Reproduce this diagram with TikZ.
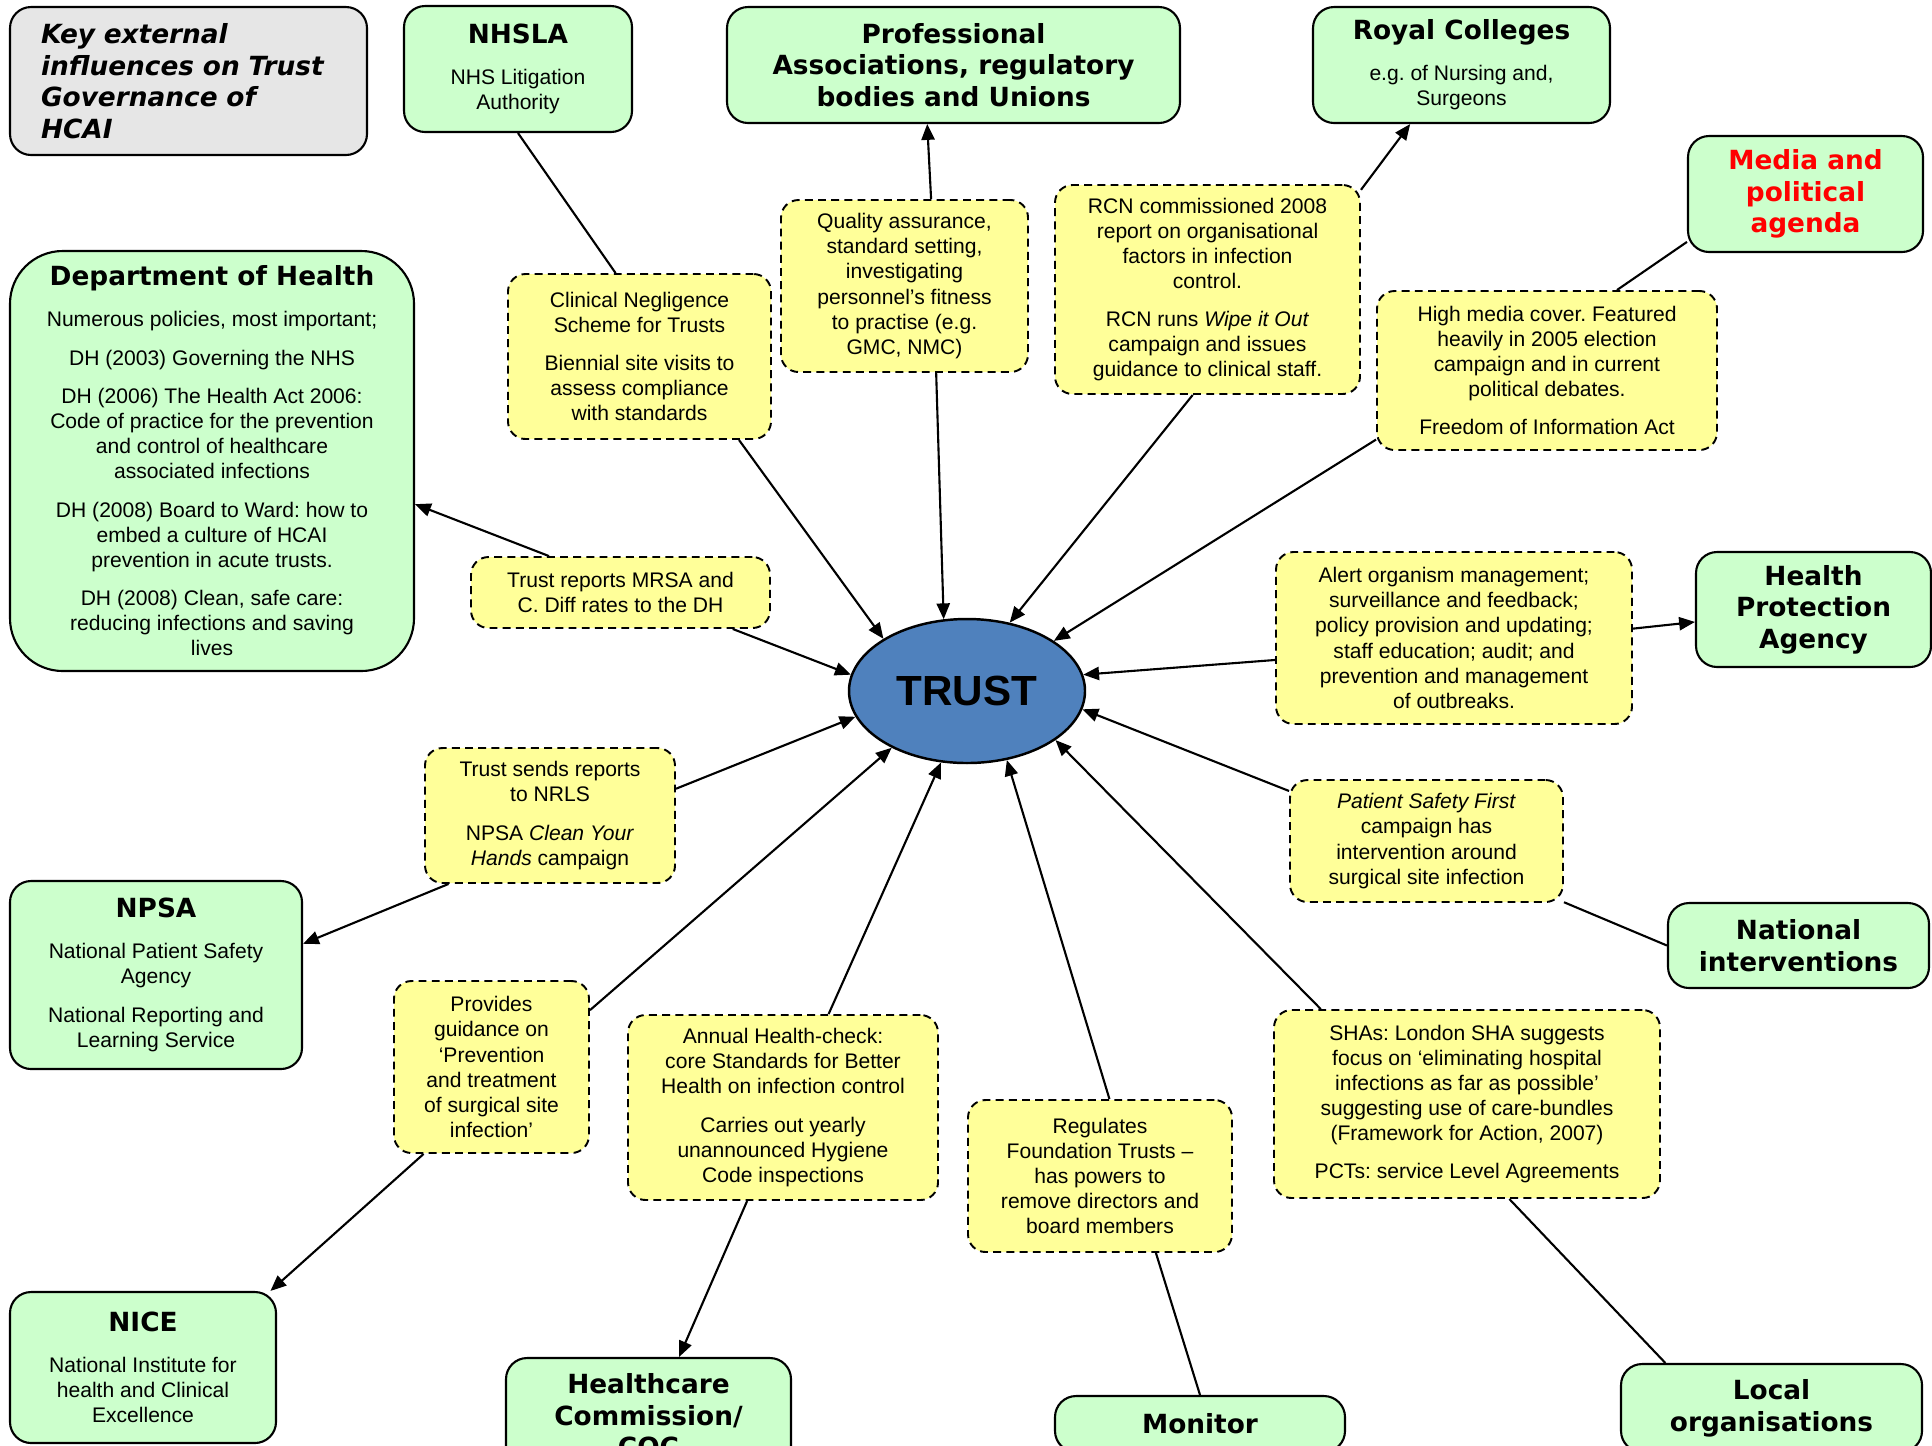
\documentclass[tikz,border=0pt]{standalone}
\usepackage{fontspec}
\setmainfont{Liberation Sans}
\newfontfamily\verdana{DejaVu Sans}
\frenchspacing
\usepackage{xcolor}
\definecolor{xgreen}{HTML}{CCFFCC}
\definecolor{xyellow}{HTML}{FFFF99}
\definecolor{xgrey}{HTML}{E6E6E6}
\definecolor{xblue}{HTML}{4F81BD}
\definecolor{xred}{HTML}{FF0000}
\usepackage{tikz}
\usetikzlibrary{arrows.meta, shapes.geometric}
\newcommand{\txtfont}{\fontsize{12}{14.3}\selectfont}
\newcommand{\ttlfont}{\verdana\bfseries\fontsize{15}{18}\selectfont}
\tikzset{
  %% Styles %%
  boxsize/.style 2 args = {minimum width=#1*0.02cm, minimum height=#2*0.02cm},
  agency/.style = {
    draw, line width=1.2pt, fill=xgreen, rounded corners=12pt,
    align=center, inner sep=2pt, font=\txtfont,
  },
  heading/.style = {agency, font=\ttlfont},
  note/.style = {
    draw, line width=1.1pt, dash pattern=on 4.5pt off 3pt, fill=xyellow,
    rounded corners=10pt, align=center, inner sep=2pt, font=\txtfont,
  },
  core/.style = {
    ellipse, draw, line width=1.4pt, fill=xblue, inner sep=0pt,
    font=\bfseries\fontsize{24}{28}\selectfont,
  },
  influence/.style = {line width=1.2pt, -{Triangle[length=9pt, width=7.5pt]}},
  link/.style = {line width=1.2pt},
}

\begin{document}
\begin{tikzpicture}[x=0.02cm, y=-0.02cm]
  \useasboundingbox (0,0) rectangle (1932,1445);
  \clip (0,0) rectangle (1932,1445);

  % Agencies
  \node[agency, boxsize={357}{148}, fill=xgrey, align=left, text width=5.9cm,
    font=\verdana\bfseries\itshape\fontsize{15}{18}\selectfont] (key) at (188.5,81)
    {Key external\\influences on Trust\\Governance of\\HCAI};
  \node[agency, boxsize={228}{126}] (nhsla) at (518,69)
    {{\ttlfont NHSLA}\\[9pt]NHS Litigation\\Authority};
  \node[heading, boxsize={453}{116}] (prof) at (953.5,65)
    {Professional\\Associations, regulatory\\bodies and Unions};
  \node[agency, boxsize={297}{116}] (royal) at (1461.5,65)
    {{\ttlfont Royal Colleges}\\[9pt]e.g. of Nursing and,\\Surgeons};
  \node[heading, boxsize={235}{116}, text=xred] (media) at (1805.5,194)
    {Media and\\political\\agenda};
  \node[agency, boxsize={404}{420}, rounded corners=30pt] (dh) at (212,461)
    {{\ttlfont Department of Health}\\[9pt]Numerous policies, most important;\\[7.5pt]
     DH (2003) Governing the NHS\\[7.5pt]
     DH (2006) The Health Act 2006:\\Code of practice for the prevention\\and control of healthcare\\associated infections\\[7.5pt]
     DH (2008) Board to Ward: how to\\embed a culture of HCAI\\prevention in acute trusts.\\[7.5pt]
     DH (2008) Clean, safe care:\\reducing infections and saving\\lives};
  \node[heading, boxsize={235}{115}] (hpa) at (1813.5,609.5)
    {Health\\Protection\\Agency};
  \node[heading, boxsize={261}{85}] (natint) at (1798.5,945.5)
    {National\\interventions};
  \node[agency, boxsize={292}{188}] (npsa) at (156,975)
    {{\ttlfont NPSA}\\[9pt]National Patient Safety\\Agency\\[7.5pt]National Reporting and\\Learning Service};
  \node[agency, boxsize={266}{151}] (nice) at (143,1367.5)
    {{\ttlfont NICE}\\[9pt]National Institute for\\health and Clinical\\Excellence};
  \node[heading, boxsize={285}{118}] (hcc) at (648.5,1417)
    {Healthcare\\Commission/\\CQC};
  \node[heading, boxsize={290}{56}] (monitor) at (1200,1424) {Monitor};
  \node[heading, boxsize={301}{88}] (local) at (1771.5,1408)
    {Local\\organisations};

  % Trust
  \node[core, boxsize={236}{144}] (trust) at (967,691) {TRUST};

  % Notes
  \node[note, boxsize={263}{165}] (cns) at (639.5,356.5)
    {Clinical Negligence\\Scheme for Trusts\\[7.5pt]Biennial site visits to\\assess compliance\\with standards};
  \node[note, boxsize={247}{172}] (qa) at (904.5,286)
    {Quality assurance,\\standard setting,\\investigating\\personnel’s fitness\\to practise (e.g.\\GMC, NMC)};
  \node[note, boxsize={305}{209}] (rcn) at (1207.5,289.5)
    {RCN commissioned 2008\\report on organisational\\factors in infection\\control.\\[7.5pt]
     RCN runs \textit{Wipe it Out}\\campaign and issues\\guidance to clinical staff.};
  \node[note, boxsize={340}{159}] (press) at (1547,370.5)
    {High media cover. Featured\\heavily in 2005 election\\campaign and in current\\political debates.\\[7.5pt]
     Freedom of Information Act};
  \node[note, boxsize={299}{71}] (mrsa) at (620.5,592.5)
    {Trust reports MRSA and\\C. Diff rates to the DH};
  \node[note, boxsize={356}{172}] (alert) at (1454,638)
    {Alert organism management;\\surveillance and feedback;\\policy provision and updating;\\staff education; audit; and\\prevention and management\\of outbreaks.};
  \node[note, boxsize={250}{135}] (nrls) at (550,815.5)
    {Trust sends reports\\to NRLS\\[7.5pt]NPSA \textit{Clean Your}\\\textit{Hands} campaign};
  \node[note, boxsize={273}{122}] (psf) at (1426.5,841)
    {\textit{Patient Safety First}\\campaign has\\intervention around\\surgical site infection};
  \node[note, boxsize={195}{172}] (ssi) at (491.5,1067)
    {Provides\\guidance on\\‘Prevention\\and treatment\\of surgical site\\infection’};
  \node[note, boxsize={310}{185}] (check) at (783,1107.5)
    {Annual Health-check:\\core Standards for Better\\Health on infection control\\[7.5pt]
     Carries out yearly\\unannounced Hygiene\\Code inspections};
  \node[note, boxsize={264}{152}] (found) at (1100,1176)
    {Regulates\\Foundation Trusts --\\has powers to\\remove directors and\\board members};
  \node[note, boxsize={386}{188}] (sha) at (1467,1104)
    {SHAs: London SHA suggests\\focus on ‘eliminating hospital\\infections as far as possible’\\suggesting use of care-bundles\\(Framework for Action, 2007)\\[7.5pt]
     PCTs: service Level Agreements};

  % Connectors
  \draw[link] (nhsla.south) -- (cns.106);
  \draw[influence] (cns.-40) -- (trust.148);
  \draw[influence] (qa.73) -- (prof.-114);
  \draw[influence] (qa.-70) -- (trust.108);
  \draw[influence] (rcn.33) -- (royal.-131);
  \draw[influence] (rcn.-98) -- (trust.58);
  \draw[link] (media.-158) -- (press.49);
  \draw[influence] (press.-158) -- (trust.30);
  \draw[influence] (mrsa.153) -- (dh.-12);
  \draw[influence] (mrsa.-18) -- (trust.172);
  \draw[influence] (alert.3) -- (hpa.-174);
  \draw[influence] (alert.-173) -- (trust.8);
  \draw[influence] (nrls.-146) -- (npsa.12);
  \draw[influence] (nrls.12) -- (trust.-167);
  \draw[influence] (ssi.-128) -- (nice.31);
  \draw[influence] (ssi.30) -- (trust.-143);
  \draw[influence] (check.-111) -- (hcc.63);
  \draw[influence] (check.64) -- (trust.-110);
  \draw[link] (monitor.north) -- (found.-54);
  \draw[influence] (found.83) -- (trust.-60);
  \draw[link] (natint.west) -- (psf.-24);
  \draw[influence] (psf.160) -- (trust.-9);
  \draw[link] (local.157) -- (sha.-66);
  \draw[influence] (sha.147) -- (trust.-29);
\end{tikzpicture}
\end{document}
